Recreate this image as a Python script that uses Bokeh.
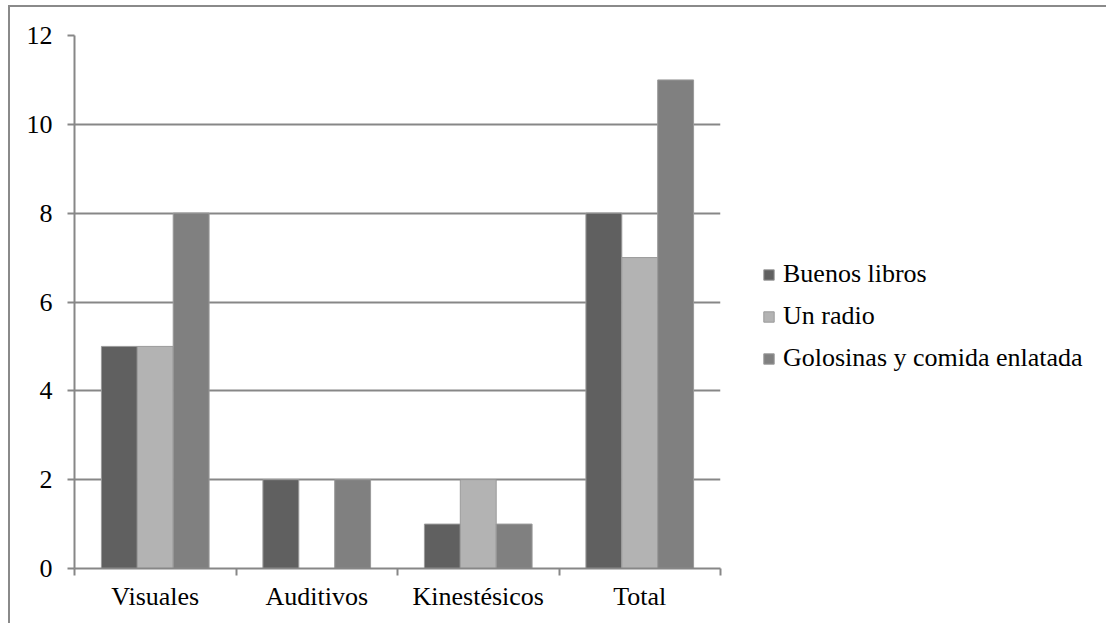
from bokeh.plotting import figure
from bokeh.models import ColumnDataSource, FixedTicker, Legend, LegendItem, Range1d
from bokeh.embed import file_html
from bokeh.resources import INLINE

categories = ["Visuales", "Auditivos", "Kinestésicos", "Total"]
series_names = ["Buenos libros", "Un radio", "Golosinas y comida enlatada"]
buenos_libros = [5, 2, 1, 8]
un_radio = [5, 0, 2, 7]
golosinas = [8, 2, 1, 11]
y_ticks = [0, 2, 4, 6, 8, 10, 12]

colors = ["#606060", "#b3b3b3", "#808080"]
series_values = [buenos_libros, un_radio, golosinas]

FONT = "Liberation Serif"
GRID = "#878787"

p = figure(frame_width=646, frame_height=533, output_backend="svg", toolbar_location=None,
           x_range=Range1d(0, len(categories)), y_range=Range1d(0, 12),
           min_border_left=64, min_border_top=28, min_border_bottom=55, min_border_right=0)
p.styles = {"border-top": "2px solid #8a8a8a", "border-left": "2px solid #8a8a8a",
            "margin-top": "5px", "margin-left": "8px"}
p.outline_line_color = None

bw = 1.0 / 4.5
offsets = [-bw, 0.0, bw]
items = []
for name, vals, col, off in zip(series_names, series_values, colors, offsets):
    src = ColumnDataSource(dict(x=[i + 0.5 + off for i in range(len(categories))], top=vals))
    r = p.vbar(x="x", top="top", bottom=0, width=bw, source=src, fill_color=col,
               line_color="#9a9a9a", line_width=1)
    items.append(LegendItem(label=name, renderers=[r]))

# x axis
p.xaxis.ticker = FixedTicker(ticks=[i + 0.5 for i in range(len(categories))],
                             minor_ticks=list(range(len(categories) + 1)))
p.xaxis.major_label_overrides = {i + 0.5: c for i, c in enumerate(categories)}
p.xaxis.major_tick_line_color = None
p.xaxis.major_tick_out = 0
p.xaxis.major_tick_in = 0
p.xaxis.minor_tick_line_color = GRID
p.xaxis.minor_tick_line_width = 2
p.xaxis.minor_tick_out = 7
p.xaxis.minor_tick_in = 0
p.xaxis.major_label_standoff = 6
p.xaxis.axis_line_color = GRID
p.xaxis.axis_line_width = 2
p.xaxis.major_label_text_font = FONT
p.xaxis.major_label_text_font_size = "26px"
p.xaxis.major_label_text_color = "black"

# y axis
p.yaxis.ticker = FixedTicker(ticks=y_ticks)
p.yaxis.major_tick_out = 7
p.yaxis.major_tick_in = 0
p.yaxis.minor_tick_line_color = None
p.yaxis.major_tick_line_color = GRID
p.yaxis.major_tick_line_width = 2
p.yaxis.axis_line_color = GRID
p.yaxis.axis_line_width = 2
p.yaxis.major_label_standoff = 15
p.yaxis.major_label_text_font = FONT
p.yaxis.major_label_text_font_size = "26px"
p.yaxis.major_label_text_color = "black"

p.xgrid.grid_line_color = None
p.ygrid.grid_line_color = GRID
p.ygrid.grid_line_width = 2

legend = Legend(items=items, location=(42, 195), orientation="vertical",
                glyph_width=13, glyph_height=13, label_standoff=8,
                label_text_font=FONT, label_text_font_size="26px",
                label_text_color="black", spacing=12, padding=0, margin=0,
                border_line_color=None, background_fill_alpha=0)
p.add_layout(legend, "right")

open("out.html", "w").write(file_html(p, INLINE))
